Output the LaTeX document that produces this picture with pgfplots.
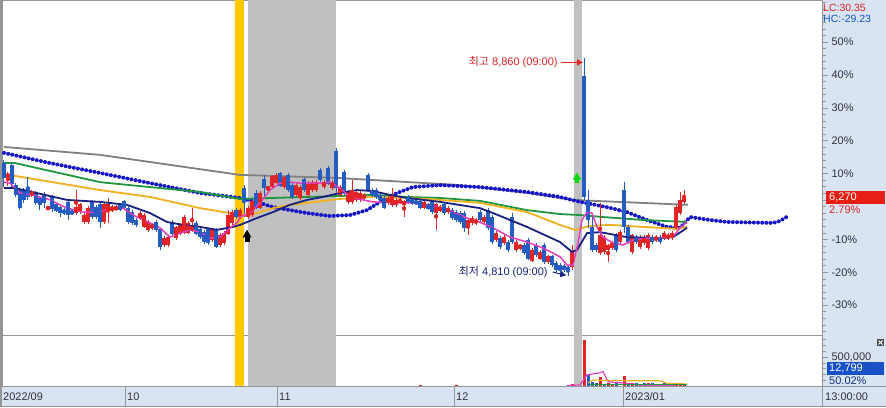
\documentclass[border=0pt]{standalone}
\usepackage{pgfplots}
\pgfplotsset{compat=1.18}
\usepackage{pgfplotstable}
\usepackage{fontspec}
\setmainfont{Liberation Sans}
\newfontfamily\kr{Noto Sans CJK KR}
\usetikzlibrary{arrows.meta}

\definecolor{upred}{RGB}{226,36,36}
\definecolor{dnblue}{RGB}{36,92,196}
\definecolor{dotblue}{RGB}{20,20,200}
\definecolor{navyl}{RGB}{24,32,128}
\definecolor{magl}{RGB}{228,64,190}
\definecolor{orgl}{RGB}{240,176,32}
\definecolor{grnl}{RGB}{32,150,64}
\definecolor{gryl}{RGB}{128,128,128}
\definecolor{bandy}{RGB}{255,200,0}
\definecolor{bandg}{RGB}{192,192,192}
\definecolor{panel}{RGB}{216,228,242}
\definecolor{frame}{RGB}{150,150,150}
\definecolor{lbl}{RGB}{50,50,60}
\definecolor{boxred}{RGB}{232,30,20}
\definecolor{boxblue}{RGB}{24,80,200}
\newcommand\ff{\fontsize{11}{13}\selectfont}

% candles, percent change vs. 6,100 (i = bar index)
\pgfplotstableread{
i o h l c
1 9.0 10.5 6.2 9.9
7 3.5 5.0 2.9 4.4
11 -0.8 0.2 -1.1 -0.2
18 -2.0 5.0 -2.6 -0.2
19 -1.7 1.1 -2.3 0.5
20 -4.7 -2.0 -5.3 -2.6
21 -4.7 0.2 -5.3 -0.5
25 -4.7 1.1 -5.3 0.5
26 -1.1 2.6 -5.0 0.5
27 -1.1 0.5 -1.7 -0.2
28 -0.8 0.5 -1.4 -0.2
34 -3.5 -1.4 -4.1 -2.0
35 -6.2 -2.0 -6.5 -2.6
36 -7.1 -4.1 -7.8 -4.7
37 -6.5 -5.0 -7.1 -5.6
40 -11.7 -9.0 -12.3 -9.6
41 -11.7 -8.7 -12.3 -9.3
43 -9.6 -5.9 -10.2 -6.5
44 -8.1 -5.0 -8.7 -5.6
45 -7.8 -2.6 -8.4 -3.2
46 -7.8 -4.4 -8.4 -5.0
47 -7.1 -0.5 -7.8 -6.2
52 -10.2 -6.5 -10.8 -7.1
54 -11.7 -8.1 -12.3 -8.7
55 -11.1 -7.4 -11.7 -8.1
56 -8.1 -1.1 -8.7 -2.6
57 -5.0 -1.1 -5.6 -1.7
59 -3.2 -0.5 -3.8 -1.1
61 -3.2 0.2 -3.8 -0.5
62 -2.6 2.0 -3.2 1.4
64 -0.2 4.7 -0.8 4.1
66 5.3 6.2 4.7 5.9
67 5.9 9.6 5.3 9.0
68 7.4 10.2 6.8 9.6
70 5.9 9.3 5.3 8.7
73 3.5 7.1 2.9 6.5
74 2.6 6.5 2.0 5.9
76 3.5 7.8 2.9 7.1
77 5.0 8.1 4.4 7.4
78 5.0 8.1 4.4 7.4
80 5.9 8.1 5.3 7.4
82 5.6 8.1 5.0 7.4
84 3.5 6.5 2.9 5.9
86 1.4 5.0 0.8 4.4
87 1.4 8.1 0.8 4.1
88 2.0 5.0 1.4 4.4
89 2.0 4.7 1.4 4.1
90 2.6 4.1 2.0 3.5
96 1.1 3.2 0.5 2.6
97 0.5 5.6 -0.2 2.6
98 0.5 2.6 -0.2 2.0
99 1.4 2.6 0.8 2.0
100 0.5 2.0 -3.2 1.4
105 -0.2 1.7 -0.8 1.1
108 -2.0 1.1 -7.1 0.5
109 -1.1 0.5 -1.7 -0.2
111 -1.7 0.2 -2.3 -0.5
116 -6.2 -3.5 -8.7 -4.1
117 -5.0 -2.9 -5.6 -3.5
118 -5.0 -3.5 -5.6 -4.1
120 -4.7 -2.6 -5.3 -3.2
123 -10.2 -7.4 -10.8 -8.1
125 -11.1 -8.7 -11.7 -9.3
128 -13.2 -10.2 -13.8 -10.8
129 -12.6 -11.4 -13.2 -11.7
132 -16.3 -12.6 -16.9 -13.2
134 -15.7 -13.2 -16.3 -13.8
136 -16.9 -14.7 -17.5 -15.3
142 -18.4 -11.7 -19.3 -14.1
149 -14.1 1.1 -14.7 -8.7
150 -13.8 -8.7 -14.4 -9.3
151 -13.2 -11.4 -16.9 -11.7
152 -12.6 -10.5 -13.2 -11.1
154 -10.8 -7.1 -11.4 -7.8
157 -13.8 -8.4 -14.4 -8.7
159 -12.3 -8.7 -12.9 -9.3
160 -11.1 -8.7 -11.7 -9.3
161 -12.6 -8.1 -13.2 -8.7
163 -10.2 -8.7 -10.8 -9.3
165 -9.6 -7.4 -10.2 -8.1
166 -9.6 -8.1 -10.2 -8.7
167 -9.6 -7.4 -10.2 -8.1
168 -6.5 0.5 -7.1 -0.2
169 -2.0 4.4 -2.6 2.0
170 1.4 5.0 0.8 2.79
}\upc

\pgfplotstableread{
i o h l c
0 13.2 14.1 5.9 8.7
2 12.6 13.2 5.9 7.1
3 6.5 7.1 2.9 3.5
4 5.0 5.6 -1.1 -0.2
5 5.0 5.6 1.1 2.0
6 5.9 9.0 2.0 2.9
8 4.1 4.7 0.5 1.1
9 2.6 3.2 -1.1 0.5
10 3.5 4.4 -0.5 1.1
12 2.9 3.5 -1.7 -0.5
13 0.5 1.1 -1.7 -1.1
14 -0.2 0.5 -3.2 -2.0
15 -1.1 -0.5 -2.6 -2.0
16 1.1 1.7 -4.1 -2.6
17 -1.7 -1.1 -2.6 -2.0
22 1.4 2.0 -3.8 -3.2
23 -0.2 0.5 -3.8 -3.2
24 0.5 1.1 -6.5 -4.7
29 0.5 1.1 -1.4 -0.8
30 1.4 2.0 -0.8 -0.2
31 -0.5 0.2 -5.3 -4.7
32 -1.7 -1.1 -5.6 -5.0
33 -4.1 -3.5 -6.2 -5.6
38 -4.7 -4.1 -7.8 -7.1
39 -7.1 -6.5 -13.2 -12.3
42 -4.7 -4.1 -8.7 -8.1
48 -5.0 -4.4 -8.7 -8.1
49 -7.1 -6.5 -9.9 -9.3
50 -7.8 -7.1 -11.4 -10.8
51 -7.1 -6.5 -11.7 -11.1
53 -7.1 -6.5 -12.6 -12.3
58 -1.1 -0.5 -3.8 -3.2
60 5.6 6.5 -3.2 2.6
63 4.1 5.0 -0.8 -0.2
65 8.1 9.6 2.9 5.6
69 10.2 10.5 5.9 6.5
71 9.6 10.2 4.4 5.0
72 6.5 7.1 2.3 2.9
75 8.1 8.7 4.4 5.0
79 11.1 11.7 7.4 8.1
81 11.7 12.3 6.5 7.1
83 16.6 17.8 3.5 5.6
85 10.5 11.1 3.5 4.1
91 9.6 10.2 4.4 5.0
92 5.0 5.6 2.9 3.5
93 5.0 5.6 2.3 2.9
94 3.5 4.1 1.4 2.0
95 2.6 3.2 -0.8 -0.2
101 2.9 3.5 0.8 1.4
102 2.0 2.6 0.5 1.1
103 1.4 2.0 0.5 1.1
104 1.4 2.0 -0.8 -0.2
106 0.5 1.1 -1.1 -0.5
107 1.1 1.7 -2.3 -1.7
110 0.5 1.1 -2.6 -2.0
112 -1.1 -0.5 -4.1 -3.5
113 -1.7 -1.1 -4.7 -4.1
114 -2.0 -1.4 -5.3 -4.7
115 -2.0 -1.4 -7.8 -6.5
119 -1.7 -1.1 -4.7 -4.1
121 -1.1 -0.5 -7.1 -6.5
122 -3.2 -2.6 -11.4 -10.8
124 -9.6 -9.0 -12.9 -12.3
126 -10.8 -10.2 -13.8 -13.2
127 -3.2 -2.0 -11.4 -10.8
130 -11.7 -11.1 -14.7 -14.1
131 -10.2 -9.6 -16.3 -15.7
133 -11.7 -11.1 -15.3 -14.7
135 -11.7 -11.1 -17.5 -16.9
137 -15.3 -14.7 -18.4 -17.8
138 -17.2 -16.6 -19.9 -19.3
139 -17.8 -17.2 -20.8 -19.3
140 -18.1 -17.5 -19.9 -19.0
141 -18.4 -17.8 -21.1 -19.3
145 39.4 45.2 2.0 2.9
146 2.0 5.0 -6.5 -4.1
147 -6.5 -2.6 -13.8 -13.2
148 -11.7 -11.1 -13.8 -13.2
153 -8.7 -8.1 -13.8 -13.2
155 5.0 7.4 -8.1 -6.2
156 -6.2 -5.6 -11.4 -10.8
158 -9.3 -8.7 -11.4 -10.8
162 -9.3 -8.7 -11.4 -10.8
164 -9.3 -8.7 -11.4 -10.8
}\dnc

\begin{document}
\begin{tikzpicture}[x=1pt,y=1pt]
\useasboundingbox (0,0) rectangle (886,407);
\fill[white] (0,0) rectangle (886,407);
\fill[panel] (822,0) rectangle (886,407);
\fill[panel] (0,0) rectangle (822,21);

% ---------------- main price panel ----------------
\begin{axis}[
  at={(2pt,72pt)}, anchor=south west,
  width=820pt, height=335pt, scale only axis,
  xmin=-0.5, xmax=204.5, ymin=-39.06, ymax=62.77,
  axis line style={frame},
  xtick=\empty,
  ytick={-30,-20,-10,10,20,30,40,50},
  yticklabels={-30\%,-20\%,-10\%,10\%,20\%,30\%,40\%,50\%},
  minor ytick={-38,-36,...,62},
  ytick pos=right, yticklabel pos=right,
  tick align=outside, major tick length=6pt, minor tick length=3.5pt,
  tick style={frame, line width=0.6pt},
  yticklabel style={font=\ff, text=lbl, anchor=west},
]
% event bands
\addplot[fill=bandy, draw=none] coordinates {(57.75,-50) (60,-50) (60,70) (57.75,70)} -- cycle;
\addplot[fill=bandg, draw=none] coordinates {(61,-50) (83,-50) (83,70) (61,70)} -- cycle;
\addplot[fill=bandg, draw=none] coordinates {(142.5,-50) (144.5,-50) (144.5,70) (142.5,70)} -- cycle;

% long moving average (gray)
\addplot[gryl, line width=1.8pt] coordinates {(0,18.1) (24,15.7) (59,9.6) (83,8.7) (114,6.5) (131,4.1) (142,2.0) (171,0.5)};
% leading span (dotted blue)
\addplot[dotblue, line width=4pt, dash pattern=on 0pt off 4.2pt, line cap=round] coordinates {
(0,16.3) (11.5,13.2) (24,10.2) (36.5,7.1) (49,4.1) (59,2.6) (64,1.1) (67.25,-0.2) (71.5,-1.1)
(75.75,-2.0) (81.5,-2.9) (86.5,-2.6) (90.75,-1.1) (94,1.4) (98.25,4.1) (102.25,5.9) (109,6.5)
(119,5.9) (130.75,4.4) (139,2.9) (144,1.4) (150.75,-0.2) (155.75,-1.7) (160.75,-4.1) (165.75,-6.2)
(169,-6.5) (171.5,-3.2) (176.5,-4.1) (180.75,-4.7) (192.25,-5.0) (194,-4.4) (196,-2.9)};
% green
\addplot[grnl, line width=1.8pt] coordinates {(0,13.2) (2.75,13.2) (24,7.4) (49,4.4) (59,2.3) (67.25,2.6)
(75.75,2.9) (84,3.2) (92.25,3.5) (100.75,2.9) (109,2.6) (119,1.7) (130.75,-1.1) (139,-2.3) (144,-2.6)
(149.75,-3.2) (159.75,-4.1) (170.75,-4.7)};
% orange
\addplot[orgl, line width=1.8pt] coordinates {(0,9.6) (2.75,9.3) (24,5.0) (36.5,2.9) (49,-0.5) (56.5,-2.0)
(60.25,-2.9) (63.25,-2.0) (67.25,-0.5) (71.5,0.5) (75.75,1.1) (84,2.3) (92.25,2.9) (100.75,2.6) (109,2.0)
(119,1.1) (130.75,-1.7) (139,-5.6) (142.75,-7.1) (146.5,-5.9) (151.5,-5.6) (159.75,-6.2) (168.25,-6.8) (170.75,-6.2)};

% candles: wicks and bodies
\addplot[upred, only marks, mark=none, error bars/.cd, y dir=both, y explicit, error mark=none,
  error bar style={line width=1pt, draw=upred}]
  table[x=i, y expr={(\thisrow{h}+\thisrow{l})/2}, y error expr={(\thisrow{h}-\thisrow{l})/2}] {\upc};
\addplot[upred, only marks, mark=none, error bars/.cd, y dir=both, y explicit, error mark=none,
  error bar style={line width=3.2pt, draw=upred}]
  table[x=i, y expr={(\thisrow{o}+\thisrow{c})/2}, y error expr={(\thisrow{c}-\thisrow{o})/2+0.12}] {\upc};
\addplot[dnblue, only marks, mark=none, error bars/.cd, y dir=both, y explicit, error mark=none,
  error bar style={line width=1pt, draw=dnblue}]
  table[x=i, y expr={(\thisrow{h}+\thisrow{l})/2}, y error expr={(\thisrow{h}-\thisrow{l})/2}] {\dnc};
\addplot[dnblue, only marks, mark=none, error bars/.cd, y dir=both, y explicit, error mark=none,
  error bar style={line width=3.2pt, draw=dnblue}]
  table[x=i, y expr={(\thisrow{o}+\thisrow{c})/2}, y error expr={(\thisrow{o}-\thisrow{c})/2+0.12}] {\dnc};

% navy
\addplot[navyl, line width=1.8pt] coordinates {(0,5.6) (2.75,5.6) (15.75,2.0) (24,1.4) (30.75,0.5) (36.5,-2.0)
(40.75,-4.7) (44.75,-5.6) (49,-6.2) (53.25,-7.1) (57.25,-6.2) (59,-5.6) (63.25,-3.5) (67.25,-1.7) (71.5,0.5)
(75.75,2.0) (79.75,2.9) (84,4.1) (88.25,5.0) (92.25,4.7) (96.5,3.5) (100.75,2.6) (109,1.4) (119,-0.5)
(122.25,-2.0) (130.75,-6.2) (139,-10.8) (142,-13.8) (143.25,-13.2) (145.75,-8.1) (149,-7.8) (155.75,-9.3)
(164,-9.6) (167.25,-9.3) (170.75,-6.5)};
% magenta
\addplot[magl, line width=1.5pt] coordinates {(0,7.4) (1.5,7.1) (4,4.1) (7.25,3.5) (11.5,2.0) (15.75,-0.5)
(19.75,-1.7) (24,-1.7) (26.5,-0.5) (29.75,-0.5) (32.25,-2.6) (36.5,-5.0) (39,-6.5) (41.5,-9.3) (44,-8.1)
(46.5,-7.1) (49,-7.8) (51.5,-9.6) (54,-9.3) (56.5,-6.5) (58.5,-4.7) (59,-3.2) (61.5,-2.0) (64,1.1) (66.5,5.0)
(69,7.1) (71.5,7.4) (74,7.1) (79,7.1) (81.5,7.4) (84,5.6) (86.5,2.9) (89.75,2.0) (92.25,1.4) (99,1.1)
(102.25,1.1) (105.75,0.5) (109,-0.5) (112.25,-1.7) (115.75,-3.5) (118.25,-4.4) (122.25,-6.5) (126.5,-9.3)
(130.75,-10.8) (134.75,-12.6) (139,-15.3) (140.75,-17.8) (142.25,-17.8) (143.5,-11.1) (144.5,-4.1)
(145.75,-1.7) (147,-2.0) (148.25,-6.2) (149.75,-9.3) (152.25,-11.1) (154.75,-11.7) (157.25,-10.2)
(160.75,-9.6) (164,-9.6) (167.25,-9.3) (169,-6.5) (170.75,-4.7)};

% signal arrows
\addplot[black, only marks, mark=triangle*, mark size=4.6pt] coordinates {(60.75,-8.6)};
\addplot[black, only marks, mark=square*, mark size=1.7pt] coordinates {(60.75,-10.0)};
\addplot[green!85!black, only marks, mark=triangle*, mark size=4.2pt] coordinates {(143.25,8.9)};
\addplot[green!85!black, only marks, mark=square*, mark size=1.5pt] coordinates {(143.25,7.8)};

% high / low notes
\draw[-{Latex[length=6pt,width=7pt]}, upred, line width=1pt] (axis cs:139.2,43.8) -- (axis cs:144.8,43.8);
\node[anchor=east, text=upred, font=\ff, inner sep=1pt] at (axis cs:138.7,43.8) {{\kr 최고} 8,860 (09:00)};
\draw[-{Latex[length=6pt,width=7pt]}, navyl, line width=1pt] (axis cs:137.2,-19.9) -- (axis cs:140.6,-21.0);
\node[anchor=east, text=navyl, font=\ff, inner sep=1pt] at (axis cs:136.2,-19.9) {{\kr 최저} 4,810 (09:00)};
\end{axis}

% ---------------- volume panel (thousand shares) ----------------
\begin{axis}[
  at={(2pt,21pt)}, anchor=south west,
  width=820pt, height=51pt, scale only axis,
  xmin=-0.5, xmax=204.5, ymin=0, ymax=880,
  axis line style={frame},
  xtick=\empty,
  ytick={500}, yticklabels={500{,}000},
  minor ytick={100,200,...,800},
  ytick pos=right, yticklabel pos=right,
  tick align=outside, major tick length=6pt, minor tick length=3.5pt,
  tick style={frame, line width=0.6pt},
  yticklabel style={font=\ff, text=lbl, anchor=west},
]
\addplot[fill=bandy, draw=none] coordinates {(57.75,-50) (60,-50) (60,1000) (57.75,1000)} -- cycle;
\addplot[fill=bandg, draw=none] coordinates {(61,-50) (83,-50) (83,1000) (61,1000)} -- cycle;
\addplot[fill=bandg, draw=none] coordinates {(142.5,-50) (144.5,-50) (144.5,1000) (142.5,1000)} -- cycle;
\addplot[upred, ycomb, line width=3pt] coordinates {(104,18) (113,18) (142,30) (145,793) (149,160) (151,45)
(152,40) (155,178) (157,55) (159,40) (161,45) (168,50) (169,60) (170,40)};
\addplot[dnblue, ycomb, line width=3pt] coordinates {(141,25) (146,202) (147,74) (148,45) (150,40) (153,50)
(156,57) (158,50) (160,52) (162,45) (163,40) (164,40) (165,45) (166,40) (167,40)};
\addplot[magl, line width=1.2pt] coordinates {(141,10) (144,17) (145.7,190) (149,229) (149.8,246) (151,74)
(155.7,46) (159,17) (167.75,5)};
\addplot[orgl, line width=1.2pt] coordinates {(146,52) (147.25,103) (155.75,91) (164,91) (165.75,47) (170.75,34)};
\addplot[grnl, line width=1.2pt] coordinates {(146.5,29) (170.75,29)};
\end{axis}

% ---------------- frame, date strip, right panel texts ----------------
\fill[frame] (0,0) rectangle (1.6,407);
\draw[frame, line width=0.8pt] (0,21) -- (886,21);
\draw[frame, line width=0.8pt] (0,0.4) -- (886,0.4);
\draw[frame, line width=0.8pt] (822,0) -- (822,407);
\draw[frame, line width=0.8pt] (125,0) -- (125,21);
\draw[frame, line width=0.8pt] (277,0) -- (277,21);
\draw[frame, line width=0.8pt] (454,0) -- (454,21);
\draw[frame, line width=0.8pt] (623,0) -- (623,21);
\node[anchor=west, font=\ff, text=lbl, inner sep=0pt] at (3,10) {2022/09};
\node[anchor=west, font=\ff, text=lbl, inner sep=0pt] at (127,10) {10};
\node[anchor=west, font=\ff, text=lbl, inner sep=0pt] at (279,10) {11};
\node[anchor=west, font=\ff, text=lbl, inner sep=0pt] at (456,10) {12};
\node[anchor=west, font=\ff, text=lbl, inner sep=0pt] at (625,10) {2023/01};
\node[anchor=west, font=\ff, text=lbl, inner sep=0pt] at (825,10) {13:00:00};

\node[anchor=west, font=\fontsize{10.5}{12}\selectfont, text=upred, inner sep=0pt] at (823,399) {LC:30.35};
\node[anchor=west, font=\fontsize{10.5}{12}\selectfont, text=boxblue, inner sep=0pt] at (823,388) {HC:-29.23};

\fill[boxred] (826,203) rectangle (885,216.3);
\node[anchor=west, font=\ff, text=white, inner sep=0pt] at (829,209.6) {6,270};
\node[anchor=west, font=\ff, text=upred, inner sep=0pt] at (829,197.5) {2.79\%};

\fill[boxblue] (826.5,32) rectangle (884,44.7);
\node[anchor=west, font=\ff, text=white, inner sep=0pt] at (829,38.3) {12,799};
\node[anchor=west, font=\ff, text=boxblue!60!black, inner sep=0pt] at (829,26) {50.02\%};

\fill[gray!60!black] (877,61) rectangle (884,68);
\draw[white, line width=0.8pt] (878.5,62.5) -- (882.5,66.5) (878.5,66.5) -- (882.5,62.5);
\end{tikzpicture}
\end{document}
